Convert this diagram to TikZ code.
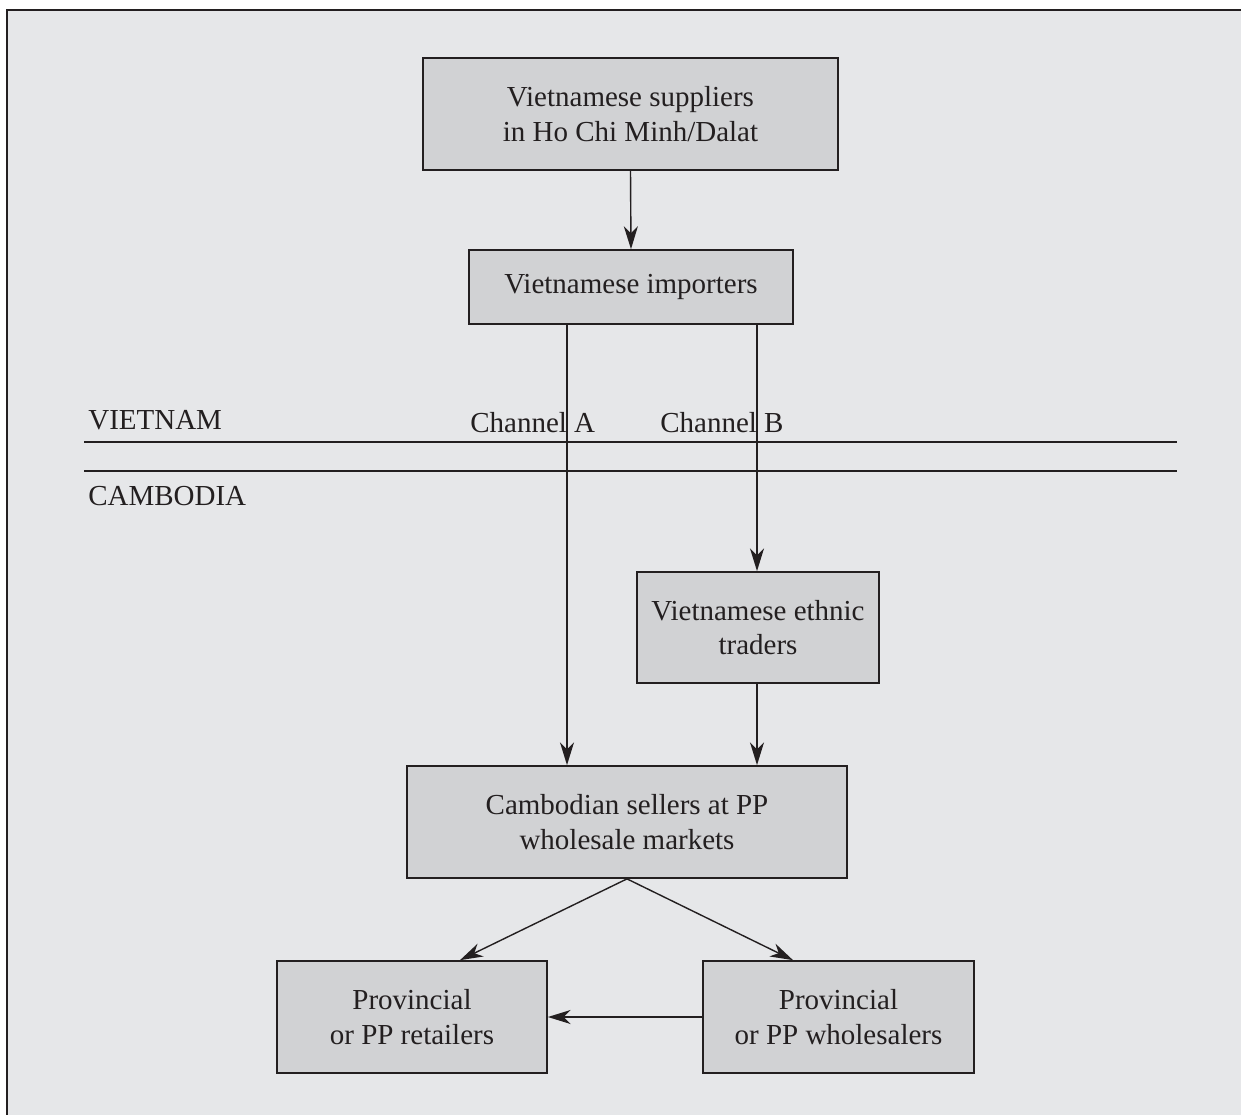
\documentclass[tikz,border=0pt]{standalone}
\usepackage{fontspec}
\setmainfont{Liberation Serif}
\usetikzlibrary{arrows.meta}
\definecolor{panel}{HTML}{E6E7E9}
\definecolor{boxfill}{HTML}{D1D2D4}
\definecolor{ink}{HTML}{231F20}
\begin{document}
\begin{tikzpicture}[x=0.02cm,y=-0.02cm,
  every node/.style={text=ink},
  flowbox/.style={draw=ink, line width=1pt, fill=boxfill, align=center,
    font=\fontsize{16.5}{19.8}\selectfont, inner sep=0pt},
  lbl/.style={anchor=base west, font=\fontsize{16.5}{19.8}\selectfont, inner sep=0pt},
  arr/.style={draw=ink, line width=0.8pt, -{Stealth[length=13pt,width=8pt,inset=4pt]}},
  rule/.style={draw=ink, line width=0.8pt}]
\useasboundingbox (0,0) rectangle (1241,1115);
% panel with frame on top and left
\fill[white] (0,0) rectangle (1241,1115);
\fill[panel] (7,10) rectangle (1241,1115);
\draw[ink, line width=1.2pt] (7,1115) -- (7,10) -- (1241,10);

% boxes
\node[flowbox, minimum width=8.3cm, minimum height=2.24cm] (sup) at (630.5,114)
  {Vietnamese suppliers\\in Ho Chi Minh/Dalat};
\node[flowbox, minimum width=6.48cm, minimum height=1.48cm] (imp) at (631,287)
  {Vietnamese importers};
\node[flowbox, minimum width=4.84cm, minimum height=2.22cm] (eth) at (758,627.5)
  {Vietnamese ethnic\\traders};
\node[flowbox, minimum width=8.8cm, minimum height=2.24cm] (sel) at (627,822)
  {Cambodian sellers at PP\\wholesale markets};
\node[flowbox, minimum width=5.4cm, minimum height=2.24cm] (ret) at (412,1017)
  {Provincial\\or PP retailers};
\node[flowbox, minimum width=5.42cm, minimum height=2.24cm] (whl) at (838.5,1017)
  {Provincial\\or PP wholesalers};

% country border
\draw[rule] (84,442) -- (1177,442);
\draw[rule] (84,471) -- (1177,471);
\node[lbl] (vn) at (88,429) {VIETNAM};
\node[lbl] (kh) at (88,505) {CAMBODIA};
\node[lbl] (cha) at (470,432) {Channel A};
\node[lbl] (chb) at (660,432) {Channel B};

% channel positions
\coordinate (ax) at (567,0);
\coordinate (bx) at (757,0);
\coordinate (rin) at (460,0);
\coordinate (win) at (793,0);

% connectors
\draw[arr] (sup.south) -- (imp.north);
\draw[arr] (imp.south -| ax) -- (sel.north -| ax);
\draw[arr] (imp.south -| bx) -- (eth.north -| bx);
\draw[arr] (eth.south -| bx) -- (sel.north -| bx);
\draw[arr] (sel.south) -- (ret.north -| rin);
\draw[arr] (sel.south) -- (whl.north -| win);
\draw[arr] (whl.west) -- (ret.east);
\end{tikzpicture}
\end{document}
